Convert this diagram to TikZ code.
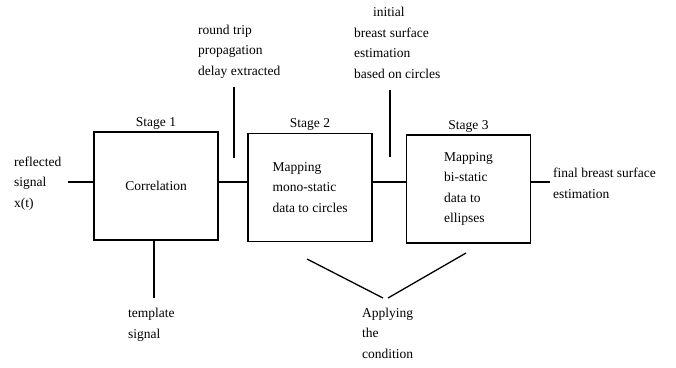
\documentclass[tikz,border=0pt]{standalone}
\usepackage{fontspec}
\setmainfont{Liberation Serif}
\usetikzlibrary{positioning}

\begin{document}
\begin{tikzpicture}[x=1pt,y=-1pt,
    every node/.style={font=\fontsize{13.5}{20.5}\selectfont},
    stagebox/.style={draw, line width=1.3pt, minimum width=124pt, minimum height=108pt, align=left, inner sep=0pt},
    lbl/.style={align=left, anchor=base west, inner sep=0pt},
    wire/.style={line width=1.3pt}]
    \useasboundingbox (0,0) rectangle (676,367);
    % the three stages
    \node[stagebox] (corr) at (156,186) {Correlation};
    \node[stagebox] (mono) at (310,187.5) {Mapping\\mono-static\\data to circles};
    \node[stagebox] (bi) at (468.5,189) {Mapping\\bi-static\\data to\\ellipses};
    \node[above=2pt of corr, inner sep=0pt] (st1) {Stage 1};
    \node[above=2pt of mono, inner sep=0pt] (st2) {Stage 2};
    \node[above=2pt of bi, inner sep=0pt] (st3) {Stage 3};
    % texts (placed at the baseline of their last line)
    \node[lbl] (refl) at (14,207) {reflected\\signal\\x(t)};
    \node[lbl] (rtd) at (198,75) {round trip\\propagation\\delay extracted};
    \node[lbl] (init) at (354,78) {\hspace*{19pt}initial\\breast surface\\estimation\\based on circles};
    \node[lbl] (final) at (553,198) {final breast surface\\estimation};
    \node[lbl] (tmpl) at (128,338) {template\\signal};
    \node[lbl] (cond) at (362,358) {Applying\\the\\condition};
    % signal path
    \coordinate (sig) at (68,182);
    \coordinate (out) at (550,182);
    \draw[wire] (sig) -- (sig -| corr.west);
    \draw[wire] (sig -| corr.east) -- (sig -| mono.west);
    \draw[wire] (sig -| mono.east) -- (sig -| bi.west);
    \draw[wire] (sig -| bi.east) -- (out);
    % side lines
    \coordinate (rtdtop) at (234,87);
    \coordinate (rtdend) at (234,158);
    \draw[wire] (rtdtop) -- (rtdend);
    \coordinate (inittop) at (390,90);
    \coordinate (initend) at (390,157);
    \draw[wire] (inittop) -- (initend);
    \coordinate (tmplend) at (154,298);
    \draw[wire] (tmplend |- corr.south) -- (tmplend);
    \coordinate (monoc) at (307,259);
    \coordinate (condL) at (383,298);
    \coordinate (condR) at (388,298);
    \coordinate (bic) at (466,253);
    \draw[wire] (monoc) -- (condL);
    \draw[wire] (condR) -- (bic);
\end{tikzpicture}
\end{document}
